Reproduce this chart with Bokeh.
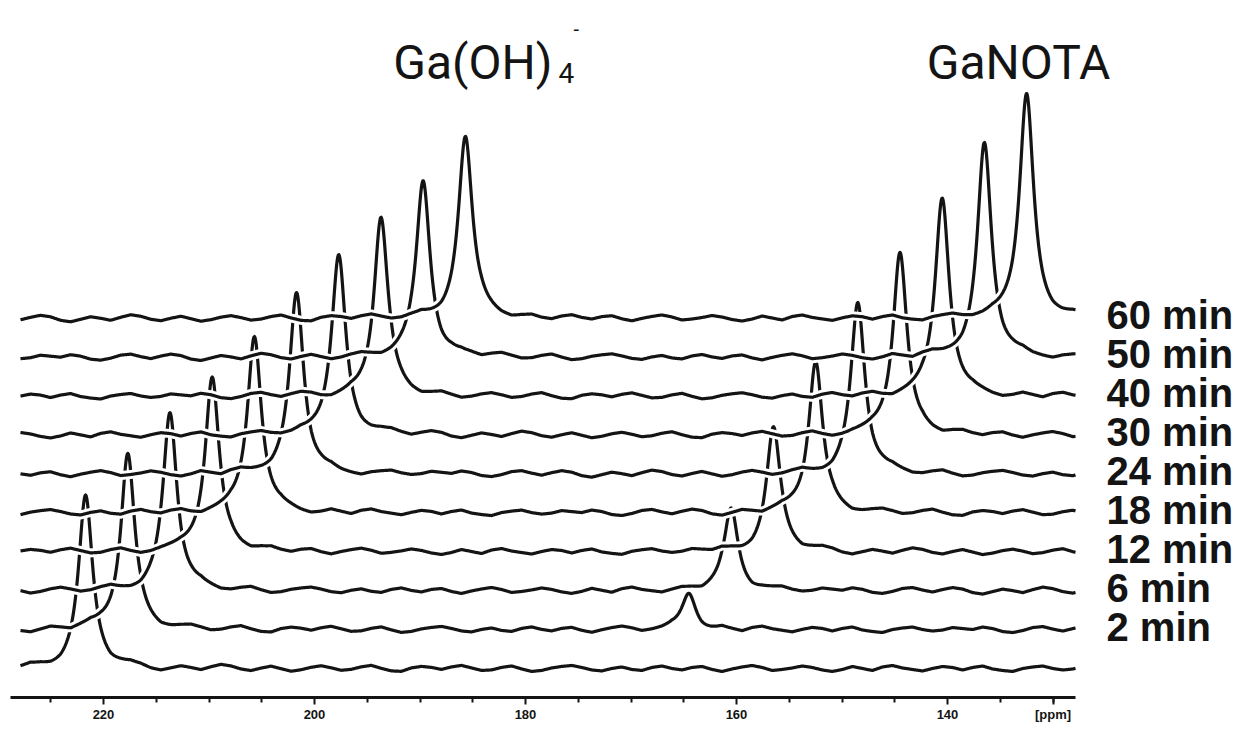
import numpy as np
from bokeh.plotting import figure
from bokeh.models import Range1d, FixedTicker
from bokeh.core.properties import value
from bokeh.embed import file_html
from bokeh.resources import INLINE

# ---------------- data ----------------
trace_labels = ["", "2 min", "6 min", "12 min", "18 min", "24 min",
                "30 min", "40 min", "50 min", "60 min"]
ga_oh4_height = [171, 177, 177, 177, 178, 180, 179, 178, 177, 181]
ganota_height = [0, 37, 83, 123, 153, 170, 185, 200, 213, 223]
ga_oh4_ppm = 221.7
ganota_ppm = 168.5
tick_values = [220, 200, 180, 160, 140, 130]
tick_labels = ["220", "200", "180", "160", "140", "[ppm]"]
minor_tick_values = [225, 215, 210, 205, 195, 190, 185, 175, 170, 165,
                     155, 150, 145, 135, 130]
baseline_wiggle = [0, 2.5, 1, -2, -3, -1, 2, 3, 0.5, -1.5, 1, 3, 1.5, -2,
                   -3.5, -1, 1.5, 0, -2, 1, 3.5, 2, -1, -2.5, 0, 2, -0.5,
                   -3, -1.5, 1, 2.5, 0.5, -2, -1, 1.5, 3, 0, -2.5, -3, 0.5,
                   2, 1, -1, 1.5, 3, 0.5, -2, -1.5, 1, 2.5, -0.5, -3, -2,
                   0.5, 2, 3, 1, -1.5, -2.5, 0, 1.5, -1, -2, 1,
                   2.5, 0, -1.5, 1, 2, -1, -3, -0.5, 1.5, 3, 1, -2, -1,
                   0.5, 2.5, 1, -1.5, -3, -1, 2, 0, -2, 1.5, 3, 0.5, -1,
                   -2.5, 0, 2, 1, -1.5, 1, 2.5, -0.5, -2, -3, 0, 1.5, 2.5,
                   0, -1.5, -0.5, 2, 1]

# ---------------- layout / style ----------------
W, H = 1235, 726
FRAME_H = 697
X_SHIFT = 4.0      # ppm stack offset per trace
Y_SHIFT = 38.9     # vertical stack offset per trace
Y0 = 29
HWHM = 0.8
KNOT = 0.95        # ppm spacing of the baseline texture
INK = "#141414"
TITLE_FONT = value("Roboto")


def ppm(img_x):
    return 220 - (img_x - 103) * 20.0 / 211.0


def ydat(img_y):
    return FRAME_H - img_y


p = figure(width=W, height=H, x_range=Range1d(ppm(0), ppm(W)),
           y_range=Range1d(0, FRAME_H), output_backend="svg",
           toolbar_location=None, min_border_left=0, min_border_right=0,
           min_border_top=0, min_border_bottom=H - FRAME_H)
p.yaxis.visible = False
p.grid.visible = False
p.outline_line_color = None
p.background_fill_color = "white"

ax = p.xaxis[0]
ax.ticker = FixedTicker(ticks=tick_values, minor_ticks=minor_tick_values)
ax.major_label_overrides = {t: l for t, l in zip(tick_values, tick_labels)}
ax.bounds = (ppm(1075), ppm(10))
ax.axis_line_width = 3
ax.axis_line_color = INK
ax.major_tick_in = 0
ax.major_tick_out = 7
ax.minor_tick_in = 0
ax.minor_tick_out = 5
ax.major_tick_line_width = 2
ax.minor_tick_line_width = 2
ax.major_tick_line_color = INK
ax.minor_tick_line_color = INK
ax.major_label_text_font = "Liberation Sans"
ax.major_label_text_font_style = "bold"
ax.major_label_text_font_size = "13px"
ax.major_label_text_color = INK
ax.major_label_standoff = 2


def lor(d):
    return 1.0 / (1.0 + (d / HWHM) ** 2)


x_disp = np.linspace(ppm(20), ppm(1075), 1800)
knot_x = ppm(20) - KNOT * np.arange(len(baseline_wiggle))

for i in range(len(trace_labels)):
    true_ppm = x_disp + X_SHIFT * i
    wig = np.roll(np.array(baseline_wiggle, dtype=float), -13 * i)
    noise = np.interp(-x_disp, -knot_x, wig)
    y = (Y0 + Y_SHIFT * i + noise
         + ga_oh4_height[i] * lor(true_ppm - ga_oh4_ppm)
         + ganota_height[i] * lor(true_ppm - ganota_ppm))
    p.line(x_disp, y, line_color="white", line_width=9, line_join="round")
    p.line(x_disp, y, line_color=INK, line_width=3.2, line_join="round")

# time labels at the right end of each trace
lab_idx = [i for i in range(len(trace_labels)) if trace_labels[i]]
p.text(x=[ppm(1106)] * len(lab_idx),
       y=[Y0 + Y_SHIFT * i + 3 for i in lab_idx],
       text=[trace_labels[i] for i in lab_idx],
       text_font=value("Liberation Sans"), text_font_style="bold",
       text_font_size="40px", text_color=INK,
       text_baseline="middle", text_align="left")

# species labels above the last trace's peaks
p.text(x=[ppm(1018)], y=[ydat(62)], text=["GaNOTA"],
       text_font=TITLE_FONT, text_font_size="48px",
       text_color=INK, text_align="center", text_baseline="alphabetic")
p.text(x=[ppm(552)], y=[ydat(62)], text=["Ga(OH)"],
       text_font=TITLE_FONT, text_font_size="48px",
       text_color=INK, text_align="right", text_baseline="alphabetic")
p.text(x=[ppm(558)], y=[ydat(72)], text=["4"],
       text_font=TITLE_FONT, text_font_size="28px",
       text_color=INK, text_align="left", text_baseline="alphabetic")
p.text(x=[ppm(573)], y=[ydat(28)], text=["-"],
       text_font=TITLE_FONT, text_font_size="20px",
       text_color=INK, text_align="left", text_baseline="alphabetic")

open("out.html", "w").write(file_html(p, INLINE))
